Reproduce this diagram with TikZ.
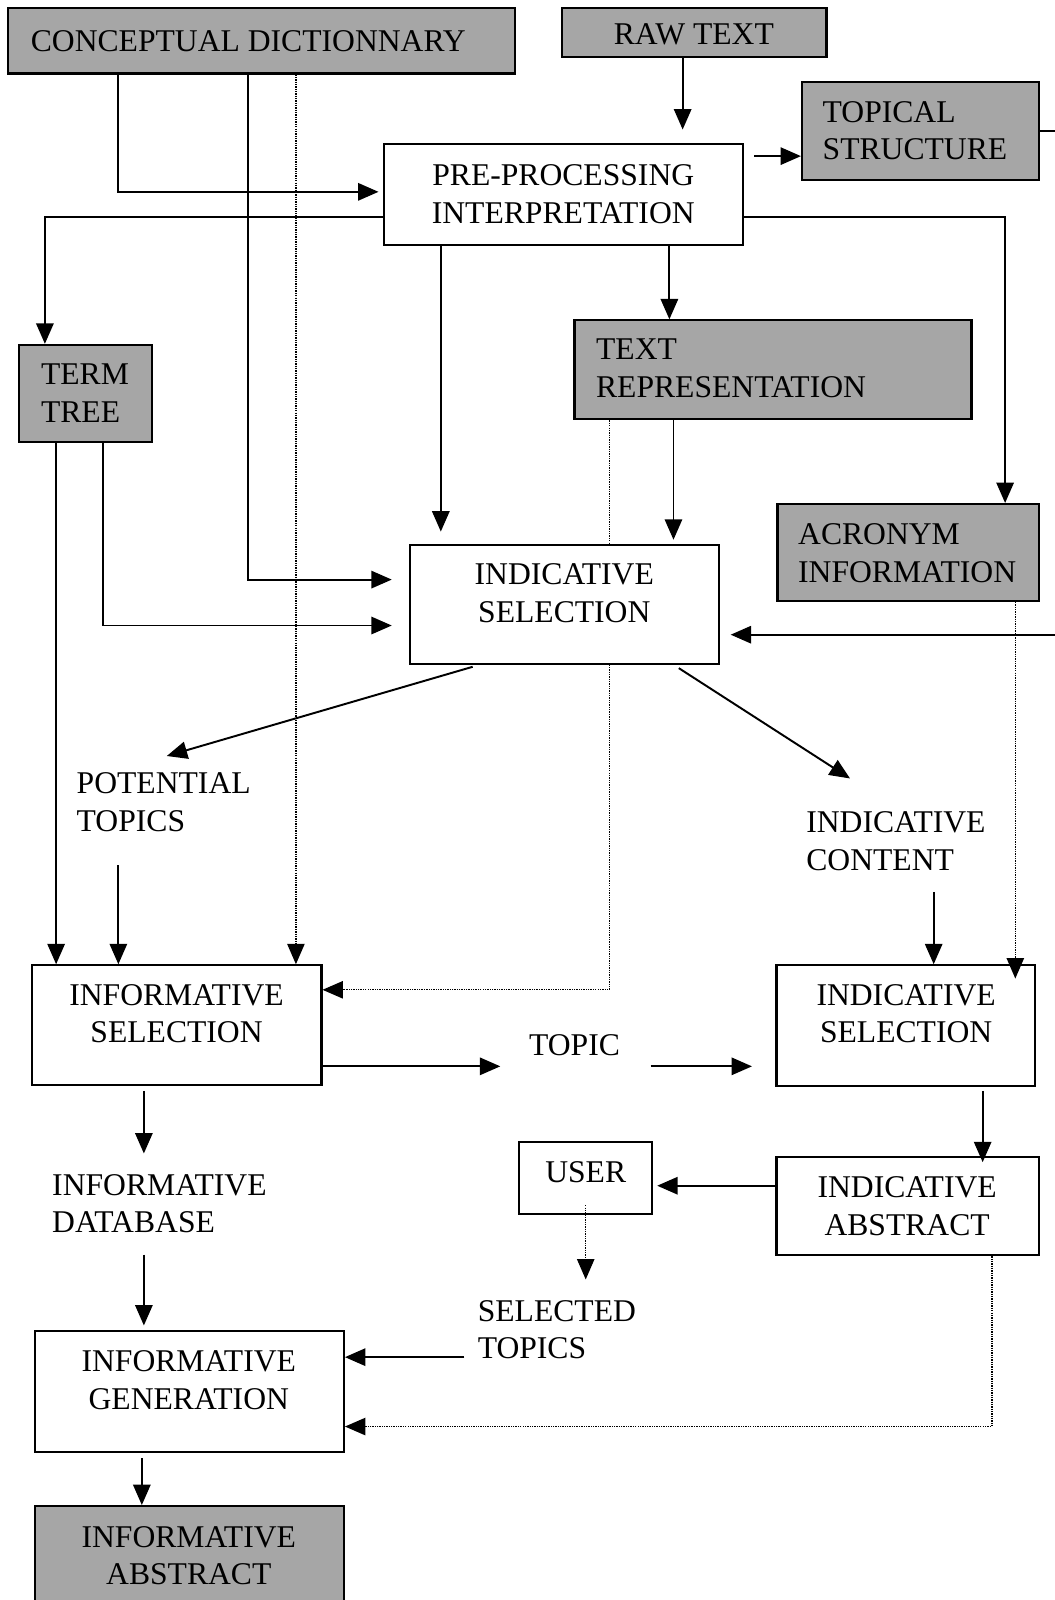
\documentclass[tikz,border=0pt]{standalone}
\usepackage{fontspec}
\setmainfont{Liberation Serif}
\usetikzlibrary{arrows.meta,calc,backgrounds}
\definecolor{shade}{RGB}{166,166,166}
\begin{document}
\begin{tikzpicture}[x=1pt,y=-1pt,
  box/.style={draw, line width=2.1pt, inner sep=0pt},
  gbox/.style={box, fill=shade},
  wbox/.style={box, fill=white},
  lbl/.style={inner sep=0pt, font=\fontsize{31}{37}\selectfont},
  lblc/.style={lbl, align=center},
  lbll/.style={lbl, align=left, anchor=west},
  arr/.style={line width=1.9pt, -{Triangle[length=20pt,width=17pt]}},
  darr/.style={line width=1.3pt, densely dotted, -{Triangle[length=20pt,width=17pt]}}]
\useasboundingbox (0,0) rectangle (1033,1568);

% ---------- boxes ----------
\node[gbox, minimum width=497pt, minimum height=64pt] (cdict) at (256.5,40) {};
\node[gbox, minimum width=259pt, minimum height=48pt] (raw) at (680.5,32) {};
\node[gbox, minimum width=232pt, minimum height=96pt] (topical) at (902,128) {};
\node[wbox, minimum width=352pt, minimum height=99pt] (prep) at (552,190.5) {};
\node[gbox, minimum width=130pt, minimum height=95pt] (term) at (84,385.5) {};
\node[gbox, minimum width=389pt, minimum height=97pt] (textrep) at (757.5,362.5) {};
\node[gbox, minimum width=256pt, minimum height=95pt] (acro) at (890,541.5) {};
\node[wbox, minimum width=303pt, minimum height=117pt] (isel1) at (553.5,592.5) {};
\node[wbox, minimum width=284pt, minimum height=117pt] (infsel) at (173,1004.5) {};
\node[wbox, minimum width=253pt, minimum height=118pt] (isel2) at (887.5,1005) {};
\node[wbox, minimum width=257pt, minimum height=96pt] (iabs) at (889.5,1182) {};
\node[wbox, minimum width=130pt, minimum height=71pt] (user) at (574,1154.5) {};
\node[wbox, minimum width=303pt, minimum height=119pt] (infgen) at (185.5,1363.5) {};
\node[gbox, minimum width=303pt, minimum height=114pt] (infabs) at (185.5,1533) {};

% ---------- texts ----------
\node[lbll] (cdict-t) at (30,40) {CONCEPTUAL DICTIONNARY};
\node[lblc] (raw-t) at (680,34) {RAW TEXT};
\node[lbll] (topical-t) at (806,128) {TOPICAL\\STRUCTURE};
\node[lblc] (prep-t) at (552,190) {PRE-PROCESSING\\INTERPRETATION};
\node[lbll] (term-t) at (40,385.5) {TERM\\TREE};
\node[lbll] (textrep-t) at (584,361) {TEXT\\REPRESENTATION};
\node[lbll] (acro-t) at (782,542) {ACRONYM\\INFORMATION};
\node[lblc] (isel1-t) at (553,581.5) {INDICATIVE\\SELECTION};
\node[lbll] (potential) at (75,786) {POTENTIAL\\TOPICS};
\node[lbll] (indcontent) at (790,824) {INDICATIVE\\CONTENT};
\node[lblc] (infsel-t) at (173,993.5) {INFORMATIVE\\SELECTION};
\node[lblc] (topic) at (563,1024) {TOPIC};
\node[lblc] (isel2-t) at (888,993.5) {INDICATIVE\\SELECTION};
\node[lbll] (infdb) at (51,1179.5) {INFORMATIVE\\DATABASE};
\node[lblc] (user-t) at (574,1149) {USER};
\node[lblc] (iabs-t) at (889,1182) {INDICATIVE\\ABSTRACT};
\node[lbll] (seltopics) at (468,1303) {SELECTED\\TOPICS};
\node[lblc] (infgen-t) at (185,1352.5) {INFORMATIVE\\GENERATION};
\node[lblc] (infabs-t) at (185,1524.5) {INFORMATIVE\\ABSTRACT};

% ---------- dotted line passing behind the upper selection box ----------
\begin{pgfonlayer}{background}
  \draw[darr] (597,0 |- textrep.south) |- (infsel.east |- 0,970);
\end{pgfonlayer}

% ---------- connectors ----------
\draw[arr, shorten >=13pt] (669,0 |- raw.south) -- (669,0 |- prep.north);
\draw[arr, shorten <=10pt] (prep.east |- 0,153) -- (topical.west |- 0,153);
\draw[arr, shorten >=4pt] (116,0 |- cdict.south) |- (prep.west |- 0,188);
\draw[arr, shorten >=17pt] (243,0 |- cdict.south) |- (isel1.west |- 0,568);
\draw[darr] (290,0 |- cdict.south) -- (290,0 |- infsel.north);
\draw[arr] (prep.west |- 0,213) -| (44,0 |- term.north);
\draw[arr] (prep.east |- 0,213) -| (985,0 |- acro.north);
\draw[arr, shorten >=12pt] (432,0 |- prep.south) -- (432,0 |- isel1.north);
\draw[arr] (656,0 |- prep.south) -- (656,0 |- textrep.north);
\draw[arr, shorten >=4pt] (660,0 |- textrep.south) -- (660,0 |- isel1.north);
\draw[arr] (55,0 |- term.south) -- (55,0 |- infsel.north);
\draw[arr, shorten >=17pt] (101,0 |- term.south) |- (isel1.west |- 0,613);
\draw[arr, shorten >=10pt] (topical.east) -- ++(30,0) |- (isel1.east |- 0,622);
\draw[arr, shorten <=5pt] (468,0 |- isel1.south) -- ($(potential.north)+(3,-16)$);
\draw[arr, shorten <=5pt] (661,0 |- isel1.south) -- ($(indcontent.north west)+(43,-32)$);
\draw[arr, shorten <=33pt] (116,0 |- potential.south) -- (116,0 |- infsel.north);
\draw[arr, shorten <=21pt] (915,0 |- indcontent.south) -- (915,0 |- isel2.north);
\draw[darr, shorten >=-14pt] (995,0 |- acro.south) -- (995,0 |- isel2.north);
\draw[arr, shorten >=28pt] (infsel.east |- 0,1045) -- (topic.west |- 0,1045);
\draw[arr, shorten <=30pt, shorten >=23pt] (topic.east |- 0,1045) -- (isel2.west |- 0,1045);
\draw[arr, shorten <=5pt, shorten >=20pt] (141,0 |- infsel.south) -- (141,0 |- infdb.north);
\draw[arr, shorten <=4pt, shorten >=-6pt] (963,0 |- isel2.south) -- (963,0 |- iabs.north);
\draw[arr, shorten >=4pt] (iabs.west |- 0,1162) -- (user.east |- 0,1162);
\draw[darr, shorten <=-10pt, shorten >=20pt] (574,0 |- user.south) -- (574,0 |- seltopics.north);
\draw[arr, shorten <=13pt] (seltopics.west |- 0,1330) -- (infgen.east |- 0,1330);
\draw[darr] (972,0 |- iabs.south) |- (infgen.east |- 0,1398);
\draw[arr, shorten <=21pt, shorten >=4pt] (141,0 |- infdb.south) -- (141,0 |- infgen.north);
\draw[arr, shorten <=5pt] (139,0 |- infgen.south) -- (139,0 |- infabs.north);
\end{tikzpicture}
\end{document}
